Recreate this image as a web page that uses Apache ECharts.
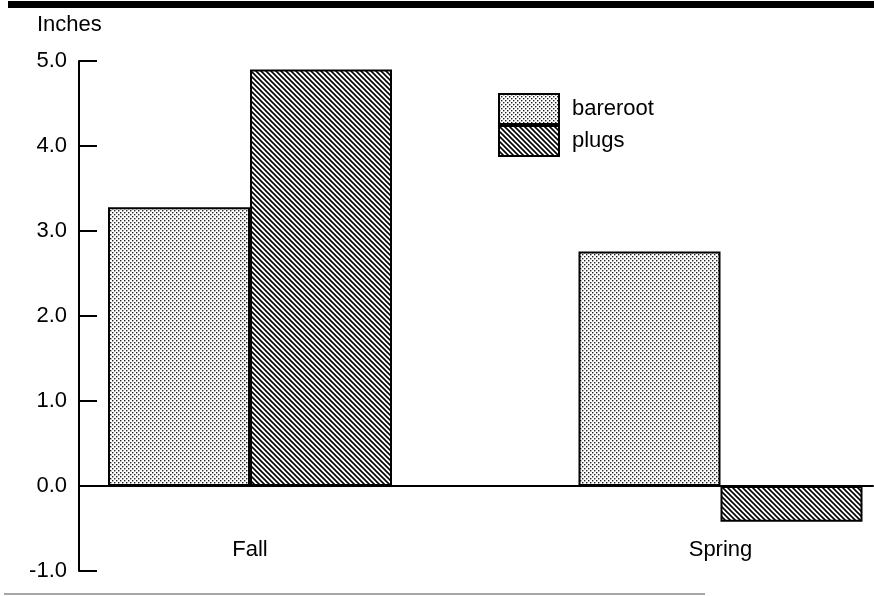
<!DOCTYPE html>
<html>
<head>
<meta charset="utf-8">
<script src="https://cdn.jsdelivr.net/npm/echarts@6/dist/echarts.min.js"></script>
<style>
html,body{margin:0;padding:0;background:#fff;}
#chart{width:874px;height:596px;}
</style>
</head>
<body>
<div id="chart"></div>
<script>
// ---- data ----
const categories = ['Fall', 'Spring'];
const seriesNames = ['bareroot', 'plugs'];
const bareroot = [3.28, 2.76];
const plugs = [4.9, -0.42];
const yTicks = [-1, 0, 1, 2, 3, 4, 5];
const yName = 'Inches';

// ---- patterns ----
function hatchPattern() {
  const n = 5;
  const c = document.createElement('canvas');
  c.width = n; c.height = n;
  const g = c.getContext('2d');
  g.fillStyle = '#fff'; g.fillRect(0, 0, n, n);
  g.strokeStyle = '#000'; g.lineWidth = 1.6;
  g.beginPath();
  g.moveTo(-1, -1); g.lineTo(n + 1, n + 1);
  g.moveTo(-1, n - 1); g.lineTo(1, n + 1);
  g.moveTo(n - 1, -1); g.lineTo(n + 1, 1);
  g.stroke();
  return c;
}
function dotPattern() {
  const c = document.createElement('canvas');
  c.width = 4; c.height = 4;
  const g = c.getContext('2d');
  g.fillStyle = '#fff'; g.fillRect(0, 0, 4, 4);
  g.fillStyle = '#222';
  g.fillRect(0, 0, 1.4, 1.4);
  g.fillRect(2, 2, 1.4, 1.4);
  return c;
}
const FONT = 'Liberation Sans, Arial, Helvetica, sans-serif';
const FS = 22;
const chart = echarts.init(document.getElementById('chart'), null, {renderer: 'canvas'});
const yMin = yTicks[0], yMax = yTicks[yTicks.length - 1];

chart.setOption({
  animation: false,
  backgroundColor: '#fff',
  title: {
    text: yName, left: 37, top: 14, padding: 0,
    textStyle: {fontFamily: FONT, fontSize: FS, fontWeight: 'normal', color: '#000'}
  },
  legend: {
    orient: 'vertical', left: 498, top: 93, padding: 0,
    itemWidth: 60, itemHeight: 30, itemGap: 0, icon: 'rect',
    data: seriesNames,
    textStyle: {fontFamily: FONT, fontSize: FS, color: '#000', padding: [0, 0, 0, 8]}
  },
  grid: [
    {left: 14.75, width: 941, top: 61, bottom: 25, containLabel: false, outerBoundsMode: 'none'},
    {left: 79, right: 1, top: 61, bottom: 25, containLabel: false, outerBoundsMode: 'none'}
  ],
  xAxis: [
    {
      gridIndex: 0, type: 'category', data: categories, position: 'bottom',
      axisLine: {show: false, onZero: false}, axisTick: {show: false},
      axisLabel: {inside: true, margin: 10, fontFamily: FONT, fontSize: FS, color: '#000'},
      splitLine: {show: false}
    },
    {
      gridIndex: 1, type: 'category', data: categories,
      axisLine: {show: true, onZero: true, lineStyle: {color: '#000', width: 2}},
      axisTick: {show: false}, axisLabel: {show: false}, splitLine: {show: false}
    }
  ],
  yAxis: [
    {gridIndex: 0, type: 'value', min: yMin, max: yMax, interval: 1, show: false},
    {
      gridIndex: 1, type: 'value', min: yMin, max: yMax, interval: 1,
      axisLine: {show: true, lineStyle: {color: '#000', width: 2}},
      axisTick: {show: true, inside: true, length: 18, lineStyle: {color: '#000', width: 2}},
      axisLabel: {margin: 12, fontFamily: FONT, fontSize: FS, color: '#000',
        formatter: v => v.toFixed(1), showMinLabel: true, showMaxLabel: true},
      splitLine: {show: false}
    }
  ],
  graphic: [
    {type: 'rect', shape: {x: 8, y: 1, width: 866, height: 7}, style: {fill: '#000'}, silent: true},
    {type: 'line', shape: {x1: 4, y1: 594, x2: 705, y2: 594}, style: {stroke: '#888', lineWidth: 1.5}, silent: true}
  ],
  series: [
    {
      name: seriesNames[0], type: 'bar', xAxisIndex: 0, yAxisIndex: 0,
      data: bareroot, barWidth: 142, barGap: '0%',
      itemStyle: {color: {image: dotPattern(), repeat: 'repeat'}, borderColor: '#000', borderWidth: 2}
    },
    {
      name: seriesNames[1], type: 'bar', xAxisIndex: 0, yAxisIndex: 0,
      data: plugs, barWidth: 142, barGap: '0%',
      itemStyle: {color: {image: hatchPattern(), repeat: 'repeat'}, borderColor: '#000', borderWidth: 2}
    }
  ]
});
</script>
</body>
</html>
